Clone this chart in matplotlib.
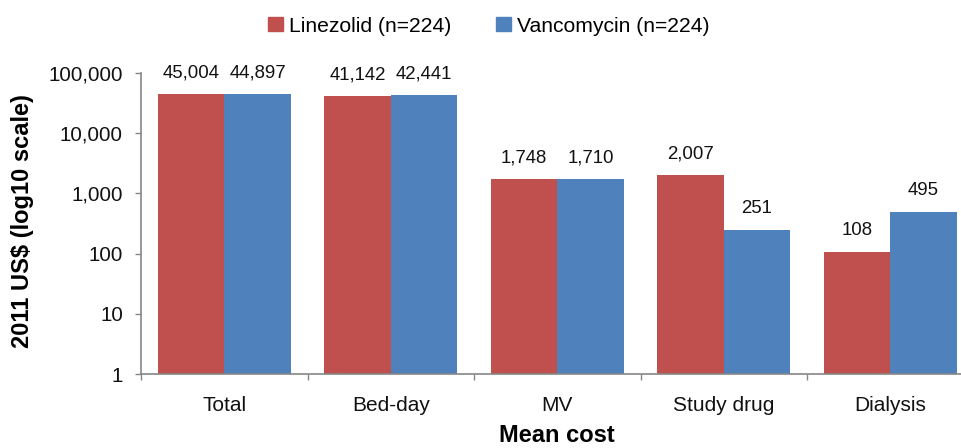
import matplotlib.pyplot as plt
from matplotlib.patches import Patch
import numpy as np

plt.rcParams['font.family'] = ['Liberation Sans', 'DejaVu Sans']

# Daten
kategorien = ['Total', 'Bed-day', 'MV', 'Study drug', 'Dialysis']
linezolid = [45004, 41142, 1748, 2007, 108]
vancomycin = [44897, 42441, 1710, 251, 495]
serien = ['Linezolid (n=224)', 'Vancomycin (n=224)']
farben = ['#C0504D', '#4F81BD']
y_ticks = [1, 10, 100, 1000, 10000, 100000]
y_labels = ['1', '10', '100', '1,000', '10,000', '100,000']

fig = plt.figure(figsize=(9.61, 4.48), dpi=100)
# Achse ragt rechts etwas ueber den Bildrand hinaus (wie im Original)
ax = fig.add_axes([141 / 961, 74 / 448, 832.5 / 961, 301 / 448])

x = np.arange(len(kategorien))
breite = 0.4
b1 = ax.bar(x - breite / 2, linezolid, breite, color=farben[0], bottom=0)
b2 = ax.bar(x + breite / 2, vancomycin, breite, color=farben[1], bottom=0)

ax.set_yscale('log')
ax.set_ylim(1, 100000)
ax.set_xlim(-0.5, len(kategorien) - 0.5)

# Werte ueber den Balken
for balken, werte in [(b1, linezolid), (b2, vancomycin)]:
    for r, w in zip(balken, werte):
        ax.annotate(f'{w:,}', (r.get_x() + r.get_width() / 2, w),
                    xytext=(0, 9), textcoords='offset points',
                    ha='center', va='bottom', fontsize=13.4, color='#111111')

ax.set_yticks(y_ticks)
ax.set_yticklabels(y_labels)
ax.minorticks_off()
ax.tick_params(axis='y', length=4, width=1, color='#868686', pad=9,
               labelsize=14.8, labelcolor='#111111')

# Kategorien-Grenzen als Striche, Beschriftungen in der Mitte
ax.set_xticks(np.arange(len(kategorien) + 1) - 0.5)
ax.set_xticklabels([])
ax.tick_params(axis='x', which='major', length=4, width=1, color='#868686')
ax.set_xticks(x, minor=True)
ax.set_xticklabels(kategorien, minor=True)
ax.tick_params(axis='x', which='minor', length=0, pad=16,
               labelsize=15, labelcolor='#111111')

for s in ['top', 'right']:
    ax.spines[s].set_visible(False)
for s in ['left', 'bottom']:
    ax.spines[s].set_color('#868686')
    ax.spines[s].set_linewidth(1.2)

ax.set_xlabel('Mean cost', fontsize=17, fontweight='bold', labelpad=6)
fig.text(23 / 961, 1 - 221 / 448, '2011 US$ (log10 scale)', rotation=90,
         ha='center', va='center', fontsize=17, fontweight='bold')

handles = [Patch(color=c, label=l) for c, l in zip(farben, serien)]
fig.legend(handles=handles, loc='center', bbox_to_anchor=(489 / 961, 1 - 26 / 448),
           ncol=2, frameon=False, fontsize=15.2, handlelength=0.7,
           handleheight=0.7, handletextpad=0.3, columnspacing=2.1)

plt.savefig('out.png', dpi=100)
